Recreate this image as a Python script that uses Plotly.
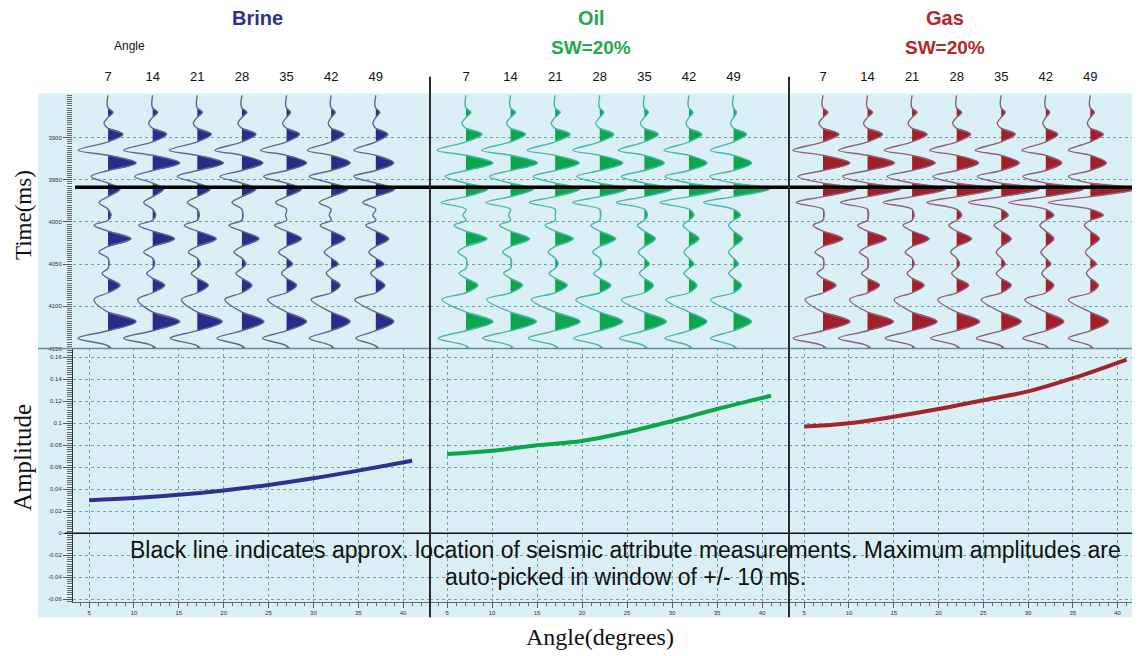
import plotly.graph_objects as go

# ---------------- data ----------------
angles = [7, 14, 21, 28, 35, 42, 49]

# times (ms) of wiggle zero crossings and extrema (shared by all traces)
zero_times = [3850, 3865, 3876, 3889, 3905, 3921, 3939, 3954, 3970, 3985, 3998, 4011,
              4029, 4043, 4055, 4067, 4084, 4107, 4129, 4147, 4165]
extrema_times = [3860, 3870, 3883, 3896, 3915, 3930, 3946, 3961, 3977, 3992, 4004, 4020,
                 4036, 4050, 4061, 4075, 4092, 4118, 4138, 4156]

# relative wiggle amplitude at each extremum (rows = extrema, columns = angles)
brine_wiggle = [
    [-1, -1, -1, -1, -1, -1, -1],
    [5, 5, 5, 5, 4, 4, 4],
    [-4, -4, -4, -4, -4, -3, -3],
    [15, 14, 14, 14, 13, 13, 12],
    [-30, -29, -28, -27, -26, -24, -22],
    [28, 27, 26, 21, 20, 19, 18],
    [-17, -18, -20, -22, -23, -22, -22],
    [12, 11, 13, 14, 15, 17, 19],
    [-9, -9, -10, -10, -11, -12, -13],
    [3, 3, 2, 1, -1, -2, -3],
    [-14, -14, -13, -13, -12, -11, -10],
    [23, 22, 19, 17, 15, 14, 13],
    [-9, -9, -9, -8, -8, -7, -7],
    [1, 2, 3, 4, 6, 7, 8],
    [-6, -6, -6, -6, -5, -5, -5],
    [12, 12, 11, 10, 10, 9, 9],
    [-14, -15, -16, -17, -19, -20, -21],
    [28, 27, 25, 22, 20, 19, 18],
    [-30, -29, -27, -25, -24, -22, -20],
    [6, 6, 6, 6, 6, 6, 6],
]
oil_wiggle = [
    [-1, -1, -1, -1, -1, -1, -1],
    [5, 5, 5, 4, 4, 4, 3],
    [-4, -4, -4, -4, -4, -3, -3],
    [16, 15, 15, 14, 14, 13, 13],
    [-29, -29, -28, -27, -26, -25, -23],
    [27, 27, 24, 23, 20, 18, 18],
    [-21, -21, -22, -23, -23, -24, -24],
    [22, 23, 25, 27, 28, 32, 36],
    [-25, -25, -26, -27, -28, -29, -30],
    [-3, -2, 0, 1, 3, 5, 7],
    [-12, -11, -10, -9, -7, -6, -5],
    [21, 19, 18, 16, 11, 10, 9],
    [-8, -8, -7, -7, -6, -5, -5],
    [1, 1, 3, 2, 5, 5, 5],
    [-7, -7, -6, -6, -5, -5, -5],
    [12, 12, 12, 11, 9, 8, 8],
    [-24, -24, -24, -24, -23, -23, -23],
    [27, 26, 25, 23, 22, 18, 18],
    [-28, -28, -27, -26, -25, -24, -23],
    [6, 6, 6, 6, 6, 6, 6],
]
gas_wiggle = [
    [-1, -1, -1, -1, -1, -1, -1],
    [5, 5, 5, 5, 4, 4, 4],
    [-4, -4, -4, -4, -4, -3, -3],
    [16, 15, 15, 14, 14, 12, 13],
    [-30, -29, -28, -27, -26, -24, -22],
    [27, 27, 23, 22, 18, 16, 16],
    [-25, -25, -25, -24, -24, -23, -22],
    [33, 33, 34, 37, 38, 38, 46],
    [-27, -27, -29, -30, -33, -37, -42],
    [1, 1, 2, 5, 7, 8, 13],
    [-10, -10, -9, -8, -7, -6, -6],
    [20, 19, 17, 15, 10, 8, 9],
    [-8, -8, -7, -6, -5, -5, -5],
    [1, 1, 2, 3, 4, 5, 6],
    [-6, -6, -5, -5, -5, -4, -4],
    [13, 12, 12, 12, 10, 8, 8],
    [-18, -18, -18, -19, -20, -21, -22],
    [27, 26, 25, 23, 20, 18, 18],
    [-30, -29, -27, -26, -25, -23, -22],
    [6, 6, 6, 6, 6, 6, 6],
]

pick_time = 3959  # black line: approx. measurement location (ms)

time_ticks = [3900, 3950, 4000, 4050, 4100, 4150]
amp_ticks = [-0.06, -0.04, -0.02, 0, 0.02, 0.04, 0.06, 0.08, 0.1, 0.12, 0.14, 0.16]
amp_tick_text = ["-0.06", "-0.04", "-0.02", "0", "0.02", "0.04", "0.06", "0.08", "0.1", "0.12", "0.14", "0.16"]
deg_ticks = [5, 10, 15, 20, 25, 30, 35, 40]

avo_angles = [5, 10, 15, 20, 25, 30, 35, 41]
brine_avo = [0.030, 0.032, 0.035, 0.039, 0.044, 0.050, 0.057, 0.066]
oil_avo = [0.072, 0.075, 0.080, 0.084, 0.092, 0.102, 0.113, 0.125]
gas_avo = [0.097, 0.100, 0.106, 0.113, 0.121, 0.129, 0.141, 0.158]

panel_names = ["Brine", "Oil", "Gas"]
panel_sub = ["", "SW=20%", "SW=20%"]

# ---------------- style ----------------
# the page body has an 8 px margin, so the figure is 8 px smaller and all
# positions below are given in window pixels and shifted by that margin
OFF = 8
W, H = 1140 - OFF, 656 - OFF
def px(x):
    return (x - OFF) / W
def py(y):
    return 1 - (y - OFF) / H

fill_colors = ["#2b2b8c", "#0ea64c", "#a21f29"]
wiggle_line_colors = ["#5d6b8e", "#46b8a8", "#8f6079"]
avo_colors = ["#2e3192", "#0aa64a", "#a3242a"]
title_colors = ["#2e3192", "#1ea84f", "#b3262c"]
grid_color = "#6aa6b0"
bg_color = "#dbeff6"
wiggle_gain = 1 / 6.37   # degrees (top axis units) per relative amplitude unit

panel_x = [(73, 430), (430, 789), (789, 1140)]
top_x_range = [(1.5, 57.5), (1.35, 57.7), (1.66, 56.8)]
bot_x_range = [(3.2, 43.0), (3.1, 43.0), (3.3, 42.5)]
top_y = (95, 350)
bot_y = (350, 605)

wiggles = [brine_wiggle, oil_wiggle, gas_wiggle]
avos = [brine_avo, oil_avo, gas_avo]

fig = go.Figure()

for p in range(3):
    xa = "x" if p == 0 else f"x{p + 1}"
    ya = "y" if p == 0 else f"y{p + 1}"
    table = wiggles[p]
    lx, ly = [], []
    fx, fy = [], []
    for j, base in enumerate(angles):
        amps = [row[j] for row in table]
        # wiggle line
        for i in range(len(extrema_times)):
            lx += [base, base + amps[i] * wiggle_gain]
            ly += [zero_times[i], extrema_times[i]]
        lx += [base, None]
        ly += [zero_times[-1], None]
        # positive lobes filled
        for i in range(len(extrema_times)):
            if amps[i] > 0:
                fx += [base, base + amps[i] * wiggle_gain, base, None]
                fy += [zero_times[i], extrema_times[i], zero_times[i + 1], None]
    fig.add_trace(go.Scatter(x=fx, y=fy, xaxis=xa, yaxis=ya, mode="lines",
                             fill="toself", fillcolor=fill_colors[p],
                             line=dict(width=0.5, color=fill_colors[p], shape="spline"),
                             hoverinfo="skip", showlegend=False))
    fig.add_trace(go.Scatter(x=lx, y=ly, xaxis=xa, yaxis=ya, mode="lines",
                             line=dict(width=1.4, color=wiggle_line_colors[p], shape="spline"),
                             hoverinfo="skip", showlegend=False))
    # AVO curve
    xb = f"x{p + 4}"
    yb = f"y{p + 4}"
    fig.add_trace(go.Scatter(x=avo_angles, y=avos[p], xaxis=xb, yaxis=yb, mode="lines",
                             line=dict(width=4, color=avo_colors[p], shape="spline"),
                             showlegend=False, name=panel_names[p]))

small_font = dict(family="Arial, Liberation Sans, sans-serif", size=6, color="#333")
layout = dict(
    width=W, height=H, margin=dict(l=0, r=0, t=0, b=0),
    paper_bgcolor="white", plot_bgcolor="rgba(0,0,0,0)",
    showlegend=False,
)

for p in range(3):
    dom = [px(panel_x[p][0]), min(1.0, px(panel_x[p][1]))]
    sx = "" if p == 0 else str(p + 1)
    # top (seismic) axes
    layout[f"xaxis{sx}"] = dict(
        domain=dom, anchor=f"y{sx}", side="top", range=list(top_x_range[p]),
        tickvals=angles, ticktext=[str(a) for a in angles],
        tickfont=dict(family="Arial, Liberation Sans, sans-serif", size=13, color="#111"),
        ticks="outside", ticklen=7, tickcolor="rgba(0,0,0,0)",
        showgrid=False, zeroline=False, showline=False, fixedrange=True)
    layout[f"yaxis{sx}"] = dict(
        domain=[py(top_y[1]), py(top_y[0])], anchor=f"x{sx}",
        range=[4150, 3849], tickvals=time_ticks,
        showticklabels=(p == 0), tickfont=small_font,
        ticks="outside" if p == 0 else "", ticklen=9, tickcolor="#555",
        minor=dict(dtick=2.5, ticks="outside" if p == 0 else "", ticklen=5, tickcolor="#666", showgrid=False),
        showgrid=True, gridcolor=grid_color, griddash="dot", gridwidth=1,
        zeroline=False, showline=False, fixedrange=True)
    # bottom (AVO) axes
    bx = str(p + 4)
    layout[f"xaxis{bx}"] = dict(
        domain=dom, anchor=f"y{bx}", range=list(bot_x_range[p]),
        tickvals=deg_ticks, tickfont=small_font,
        ticks="outside", ticklen=5, tickcolor="#555",
        minor=dict(dtick=1, tick0=0, ticks="outside", ticklen=3, tickcolor="#666", showgrid=False),
        showgrid=True, gridcolor=grid_color, griddash="dot", gridwidth=1,
        zeroline=False, showline=True, linecolor="#666", linewidth=1, fixedrange=True)
    layout[f"yaxis{bx}"] = dict(
        domain=[py(bot_y[1]), py(bot_y[0])], anchor=f"x{bx}",
        range=[-0.0627, 0.1681], tickvals=amp_ticks, ticktext=amp_tick_text,
        showticklabels=(p == 0), tickfont=small_font,
        ticks="outside" if p == 0 else "", ticklen=9, tickcolor="#555",
        minor=dict(dtick=0.002, tick0=0, ticks="outside" if p == 0 else "", ticklen=5,
                   tickcolor="#666", showgrid=False),
        showgrid=True, gridcolor=grid_color, griddash="dot", gridwidth=1,
        zeroline=False, showline=(p == 0), linecolor="#333", linewidth=1, fixedrange=True)

shapes = [
    # light-blue background
    dict(type="rect", xref="paper", yref="paper", x0=px(38), x1=1, y0=py(620), y1=py(94),
         fillcolor=bg_color, line=dict(width=0), layer="below"),
    # seismic / AVO separator
    dict(type="line", xref="paper", yref="paper", x0=px(38), x1=1, y0=py(350), y1=py(350),
         line=dict(color="#6f8d99", width=1.5)),
    # black pick line
    dict(type="line", xref="paper", yref="y", x0=px(75), x1=1, y0=pick_time, y1=pick_time,
         line=dict(color="black", width=3.5)),
    # zero-amplitude line
    dict(type="line", xref="paper", yref="y4", x0=px(65), x1=1, y0=0, y1=0,
         line=dict(color="#111", width=1.5)),
]
for xs in (430, 789):
    shapes.append(dict(type="line", xref="paper", yref="paper", x0=px(xs), x1=px(xs),
                       y0=py(620), y1=py(77), line=dict(color="#2b2b2b", width=2)))
layout["shapes"] = shapes

sans = "Arial, Liberation Sans, sans-serif"
serif = "Times New Roman, Liberation Serif, serif"
title_x = [257, 591, 945]
ann = []
for p in range(3):
    ann.append(dict(x=px(title_x[p]), y=py(18), xref="paper", yref="paper", showarrow=False,
                    text=f"<b>{panel_names[p]}</b>", font=dict(family=sans, size=20, color=title_colors[p]),
                    xanchor="center", yanchor="middle"))
    if panel_sub[p]:
        ann.append(dict(x=px(title_x[p]), y=py(48), xref="paper", yref="paper", showarrow=False,
                        text=f"<b>{panel_sub[p]}</b>", font=dict(family=sans, size=19, color=title_colors[p]),
                        xanchor="center", yanchor="middle"))
ann += [
    dict(x=px(129), y=py(46), xref="paper", yref="paper", showarrow=False, text="Angle",
         font=dict(family=sans, size=12, color="#111"), xanchor="center", yanchor="middle"),
    dict(x=px(23), y=py(216), xref="paper", yref="paper", showarrow=False, text="Time(ms)",
         textangle=-90, font=dict(family=serif, size=23, color="#111"), xanchor="center", yanchor="middle"),
    dict(x=px(23), y=py(460), xref="paper", yref="paper", showarrow=False, text="Amplitude",
         textangle=-90, font=dict(family=serif, size=25, color="#111"), xanchor="center", yanchor="middle"),
    dict(x=px(600), y=py(640), xref="paper", yref="paper", showarrow=False, text="Angle(degrees)",
         font=dict(family=serif, size=24, color="#111"), xanchor="center", yanchor="middle"),
    dict(x=px(625), y=py(553), xref="paper", yref="paper", showarrow=False,
         text="Black line indicates approx. location of seismic attribute measurements. Maximum amplitudes are",
         font=dict(family=sans, size=23, color="#111"), xanchor="center", yanchor="middle"),
    dict(x=px(625), y=py(580), xref="paper", yref="paper", showarrow=False,
         text="auto-picked in window of +/- 10 ms.",
         font=dict(family=sans, size=23, color="#111"), xanchor="center", yanchor="middle"),
]
layout["annotations"] = ann

fig.update_layout(**layout)
fig.write_html("out.html")
